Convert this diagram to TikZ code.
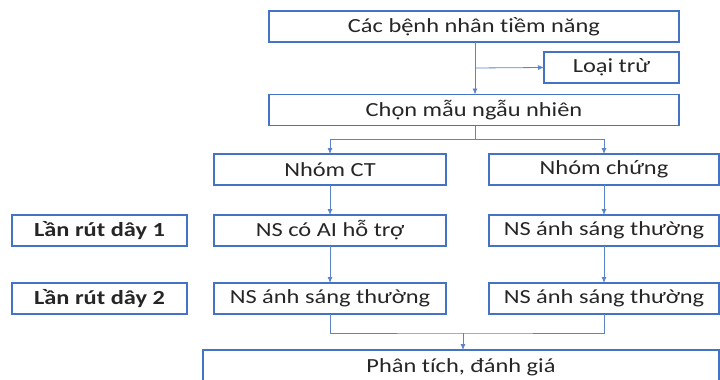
\documentclass[tikz,border=0pt]{standalone}
\usepackage{fontspec}
\setmainfont{Carlito}[FakeStretch=1.22, Ligatures=NoCommon]
\usetikzlibrary{arrows.meta}
\definecolor{boxblue}{HTML}{4472C4}
\definecolor{lineblue}{HTML}{5B84CC}
\tikzset{
  box/.style={draw=boxblue, line width=1.1pt, fill=white, minimum height=31pt, inner sep=0pt, outer sep=0pt, font=\fontsize{20}{24}\selectfont, text=black!85},
  lbl/.style={box, font=\fontsize{20}{24}\selectfont\bfseries},
  conn/.style={draw=lineblue, line width=0.8pt},
  arr/.style={conn, -{Latex[length=6pt,width=5pt]}}
}
\begin{document}
\begin{tikzpicture}[x=1pt,y=-1pt]
\useasboundingbox (0,0) rectangle (720,380);
\clip (0,0) rectangle (720,380);
\node[box, minimum width=410pt] (top) at (474,26.5) {Các bệnh nhân tiềm năng};
\node[box, minimum width=135pt] (loai) at (611.5,67.5) {Loại trừ};
\node[box, minimum width=410pt] (chon) at (474,110) {Chọn mẫu ngẫu nhiên};
\node[box, minimum width=232pt] (ct) at (330,169.5) {Nhóm CT};
\node[box, minimum width=230pt] (chung) at (604,169.5) {Nhóm chứng};
\node[lbl, minimum width=175pt] (l1) at (99.5,230.5) {Lần rút dây 1};
\node[box, minimum width=232pt] (ct1) at (330,230.5) {NS có AI hỗ trợ};
\node[box, minimum width=230pt] (ch1) at (604,230.5) {NS ánh sáng thường};
\node[lbl, minimum width=175pt] (l2) at (99.5,298.5) {Lần rút dây 2};
\node[box, minimum width=232pt] (ct2) at (330,298.5) {NS ánh sáng thường};
\node[box, minimum width=230pt] (ch2) at (604,298.5) {NS ánh sáng thường};
\node[box, minimum width=516pt, minimum height=34pt] (pt) at (461,367) {Phân tích, đánh giá};
% connectors
\coordinate (tb) at (top.south -| 475,0);
\coordinate (cb) at (chon.north -| 475,0);
\draw[arr] (tb) -- (cb);
\coordinate (br) at (475,68);
\draw[arr] (br) -- (loai.west);
\coordinate (split) at (475,139);
\draw[conn] (chon.south -| split) -- (split);
\draw[arr] (split) -| (ct.north);
\draw[arr] (split) -| (chung.north);
\draw[arr] (ct.south) -- (ct1.north);
\draw[arr] (chung.south) -- (ch1.north);
\draw[arr] (ct1.south) -- (ct2.north);
\draw[arr] (ch1.south) -- (ch2.north);
\coordinate (mg) at (463,333);
\draw[conn] (ct2.south) |- (mg) -| (ch2.south);
\draw[arr] (mg) -- (pt.north -| mg);
\end{tikzpicture}
\end{document}
